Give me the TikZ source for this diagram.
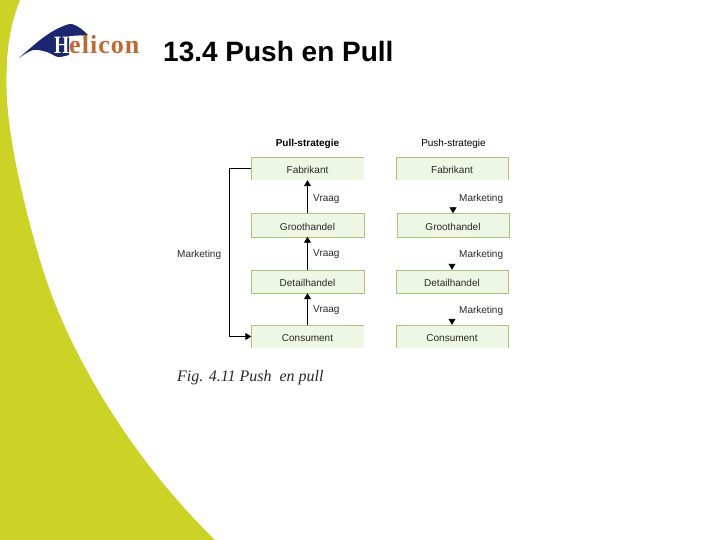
\documentclass[tikz,border=0pt]{standalone}
\usepackage{fontspec}
\setmainfont{Liberation Sans}
\newfontfamily\serifnm{Liberation Serif}
\newfontfamily\logonm[LetterSpace=4]{Liberation Serif}
\usetikzlibrary{arrows.meta}
\definecolor{lime}{RGB}{204,210,38}
\definecolor{boxfill}{RGB}{238,246,228}
\definecolor{boxline}{RGB}{170,196,125}
\definecolor{logoblue}{RGB}{28,38,112}
\definecolor{logoorange}{RGB}{190,106,52}
\definecolor{txt}{RGB}{40,40,40}
\tikzset{>={Triangle[length=6pt,width=7pt]},
x=1pt,y=-1pt,
el/.style={font=\fontsize{10}{12}\selectfont,text=txt,inner sep=0pt},
hd/.style={font=\fontsize{10}{12}\selectfont,text=black,inner sep=0pt},
ve/.style={rectangle,fill=boxfill,minimum width=112pt,minimum height=23pt,inner sep=0pt,text height=10pt,text depth=0pt,font=\fontsize{10}{12}\selectfont,text=txt},
arr/.style={->,line width=0.9pt,black},
}
\begin{document}
\begin{tikzpicture}
\useasboundingbox (0,0) rectangle (720,540);
\fill[lime] (0,0) -- (20,0) .. controls (10,25) and (6,50) .. (6.5,87) .. controls (7,140) and (28,222) .. (43,270) .. controls (68,350) and (128,455) .. (215,540) -- (0,540) -- cycle;
\fill[logoblue] (19,58) -- plot[smooth,tension=0.5] coordinates {(19,58) (40,40) (55,30) (70,24) (80,28) (88,35)} -- (69,36) -- (69,55) -- plot[smooth,tension=0.5] coordinates {(69,55) (58,57) (47,52) (33,50) (19,58)} -- cycle;
\node[anchor=base west,inner sep=0pt,text=white,xscale=0.78,transform shape,font=\serifnm\bfseries\fontsize{25}{26}\selectfont] (logoh) at (54,53.5) {H};
\node[anchor=base west,inner sep=0pt,text=logoorange,font=\logonm\bfseries\fontsize{26}{26}\selectfont] (logotxt) at (69,53.5) {elicon};
\node[anchor=base west,inner sep=0pt,font=\bfseries\fontsize{28}{30}\selectfont] (title) at (163,62) {13.4 Push en Pull};

\node[hd] (pullhd) at (307.5,144) {\textbf{Pull-strategie}};
\node[hd] (pushhd) at (453.5,144) {Push-strategie};

\node[ve] (fabpull) at (307.5,168.5) {Fabrikant};
\node[ve] (grootpull) at (307.5,225) {Groothandel};
\node[ve] (detpull) at (307.5,281.5) {Detailhandel};
\node[ve] (conpull) at (307.5,336.5) {Consument};

\node[ve] (fabpush) at (452,168.5) {Fabrikant};
\node[ve] (grootpush) at (453,225) {Groothandel};
\node[ve] (detpush) at (452,281.5) {Detailhandel};
\node[ve] (conpush) at (452,336.5) {Consument};

\foreach \n in {fabpull,conpull}
  \draw[boxline] (\n.south west) -- (\n.north west) -- (\n.north east);
\foreach \n in {fabpush,conpush}
  \draw[boxline] (\n.south west) -- (\n.north west) -- (\n.north east) -- (\n.south east);
\foreach \n in {grootpull,detpull,grootpush,detpush}
  \draw[boxline] (\n.north west) rectangle (\n.south east);

\coordinate (mg) at (453,207.5);
\coordinate (md) at (452,264);
\coordinate (mc) at (452,319);

\path
(grootpull.north) edge[arr] (fabpull.south)
(detpull.north) edge[arr] (grootpull.south)
(conpull.north) edge[arr] (detpull.south)
(mg) edge[arr] (grootpush.north)
(md) edge[arr] (detpush.north)
(mc) edge[arr] (conpush.north)
;
\draw[arr] (fabpull.west) -- (229,168.5) |- (conpull.west);

\node[el,anchor=west] (vr1) at (313,199) {Vraag};
\node[el,anchor=west] (vr2) at (313,254.5) {Vraag};
\node[el,anchor=west] (vr3) at (313,310.5) {Vraag};
\node[el,anchor=west] (mk1) at (459,199) {Marketing};
\node[el,anchor=west] (mk2) at (459,254.5) {Marketing};
\node[el,anchor=west] (mk3) at (459,310.5) {Marketing};
\node[el,anchor=west] (mkpull) at (177,254.5) {Marketing};

\node[anchor=base west,inner sep=0pt,text=txt,font=\serifnm\itshape\fontsize{16}{18}\selectfont] (fig) at (177,381) {Fig. 4.11 Push\ \ en pull};
\end{tikzpicture}
\end{document}
